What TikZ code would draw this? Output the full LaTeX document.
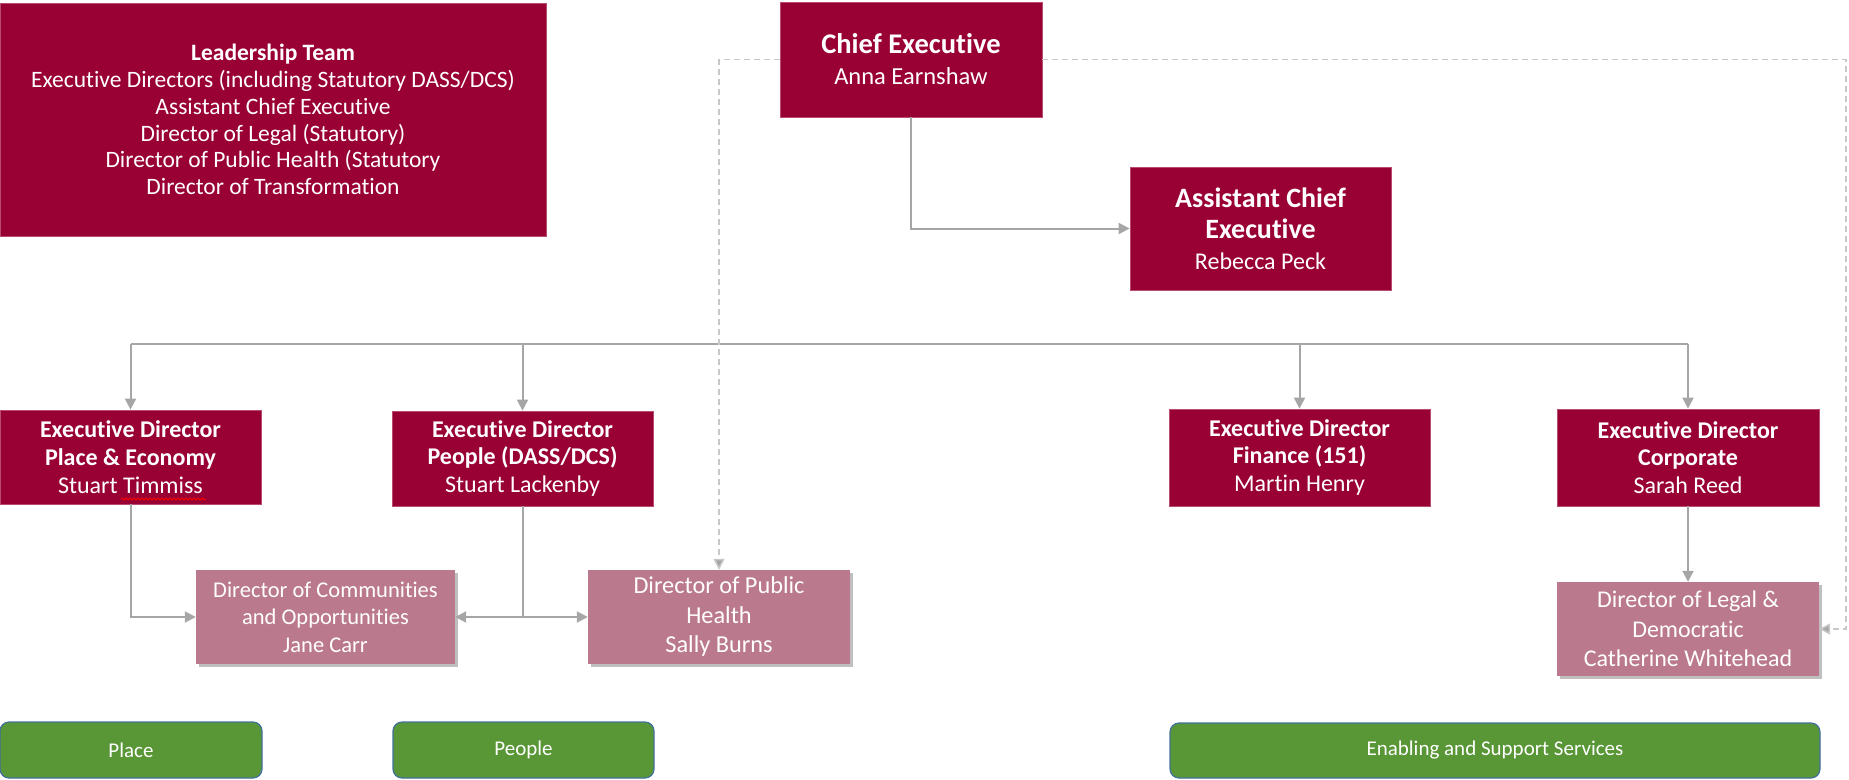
\documentclass[tikz,border=0pt]{standalone}
\usepackage{fontspec}
\setmainfont[RawFeature=-liga]{Carlito}
\usetikzlibrary{arrows.meta,shadows,decorations.pathmorphing}
\definecolor{dred}{HTML}{990033}
\definecolor{lred}{HTML}{BB798D}
\definecolor{lgray}{HTML}{A6A6A6}
\definecolor{dgray}{HTML}{C8C8C8}
\definecolor{gfill}{HTML}{589636}
\definecolor{gdraw}{HTML}{41719C}
\begin{document}
\begin{tikzpicture}[x=1pt,y=-1pt,
  dark/.style={fill=dred, draw=dred!70!white, line width=0.8pt, text=white, align=center, inner sep=0pt,
    font=\fontsize{24}{27.7}\selectfont},
  light/.style={fill=lred, text=white, align=center, inner sep=0pt,
    font=\fontsize{22.5}{27.5}\selectfont,
    drop shadow={shadow xshift=3pt, shadow yshift=-3pt, opacity=0.25, fill=black}},
  grn/.style={fill=gfill, draw=gdraw, line width=1.2pt, rounded corners=9pt, text=white, inner sep=0pt,
    font=\fontsize{21}{24}\selectfont},
  conn/.style={draw=lgray, line width=2pt, -{Triangle[width=11pt,length=11pt]}},
  dconn/.style={draw=dgray, line width=1.5pt, dash pattern=on 6pt off 4pt, -{Triangle[width=11pt,length=11pt,fill=lgray]}}
]
\useasboundingbox (0,0) rectangle (1849,779);

\node[dark, minimum width=546pt, minimum height=233pt, font=\fontsize{23.5}{26.7}\selectfont] (lead) at (273,119.5)
  {\textbf{Leadership Team}\\Executive Directors (including Statutory DASS/DCS)\\Assistant Chief Executive\\Director of Legal (Statutory)\\Director of Public Health (Statutory\\Director of Transformation};

\node[dark, minimum width=262pt, minimum height=115pt, font=\fontsize{24.5}{31}\selectfont] (chief) at (911,59.5)
  {{\fontsize{28.5}{31}\selectfont\bfseries Chief Executive}\\Anna Earnshaw};

\node[dark, minimum width=261pt, minimum height=123pt, font=\fontsize{24}{31}\selectfont] (asst) at (1260.5,228.5)
  {{\fontsize{28}{31}\selectfont\bfseries Assistant Chief}\\{\fontsize{28}{31}\selectfont\bfseries Executive}\\Rebecca Peck};

\node[dark, minimum width=261pt, minimum height=94pt] (place) at (130.5,457)
  {\textbf{Executive Director}\\\textbf{Place \& Economy}\\Stuart Timmiss};
\node[dark, minimum width=261pt, minimum height=95pt] (people) at (522.5,458.5)
  {\textbf{Executive Director}\\\textbf{People (DASS/DCS)}\\Stuart Lackenby};
\node[dark, minimum width=261pt, minimum height=97pt] (fin) at (1299.5,457.5)
  {\textbf{Executive Director}\\\textbf{Finance (151)}\\Martin Henry};
\node[dark, minimum width=262pt, minimum height=97pt] (corp) at (1688,457.5)
  {\textbf{Executive Director}\\\textbf{Corporate}\\Sarah Reed};

\node[light, minimum width=259pt, minimum height=94pt] (comm) at (325.5,617)
  {Director of Communities\\and Opportunities\\Jane Carr};
\node[light, minimum width=262pt, minimum height=94pt, font=\fontsize{24.3}{29.5}\selectfont] (ph) at (719,617)
  {Director of Public\\Health\\Sally Burns};
\node[light, minimum width=262pt, minimum height=94pt, font=\fontsize{24}{29.5}\selectfont] (legal) at (1688,629)
  {Director of Legal \&\\Democratic\\Catherine Whitehead};

\node[grn, minimum width=262pt, minimum height=56pt] (g1) at (131,750) {Place};
\node[grn, minimum width=261pt, minimum height=56pt] (g2) at (523.5,750) {People};
\node[grn, minimum width=650pt, minimum height=55pt] (g3) at (1495,750.5) {Enabling and Support Services};

% spell-check underline
\draw[red, line width=0.8pt, decorate, decoration={snake, amplitude=1pt, segment length=4pt}] (121,499) -- (206,499);

% connectors
\draw[conn] (chief.south) |- (asst.west);

\coordinate (busy) at (0,344);
\draw[draw=lgray, line width=2pt] (place.north |- busy) -- (corp.north |- busy);
\draw[conn] (place.north |- busy) -- (place.north);
\draw[conn] (people.north |- busy) -- (people.north);
\draw[conn] (fin.north |- busy) -- (fin.north);
\draw[conn] (corp.north |- busy) -- (corp.north);

\draw[conn] (place.south) |- (comm.west);
\draw[draw=lgray, line width=2pt] (people.south) -- (people.south |- comm.east) coordinate (pj);
\draw[conn] (pj) -- (comm.east);
\draw[conn] (pj) -- (ph.west);
\draw[conn] (corp.south) -- (legal.north);

\coordinate (dr) at (1846,0);
\draw[dconn] (chief.west) -| (ph.north);
\draw[dconn] (chief.east) -- (chief.east -| dr) |- (legal.east);
\end{tikzpicture}
\end{document}
